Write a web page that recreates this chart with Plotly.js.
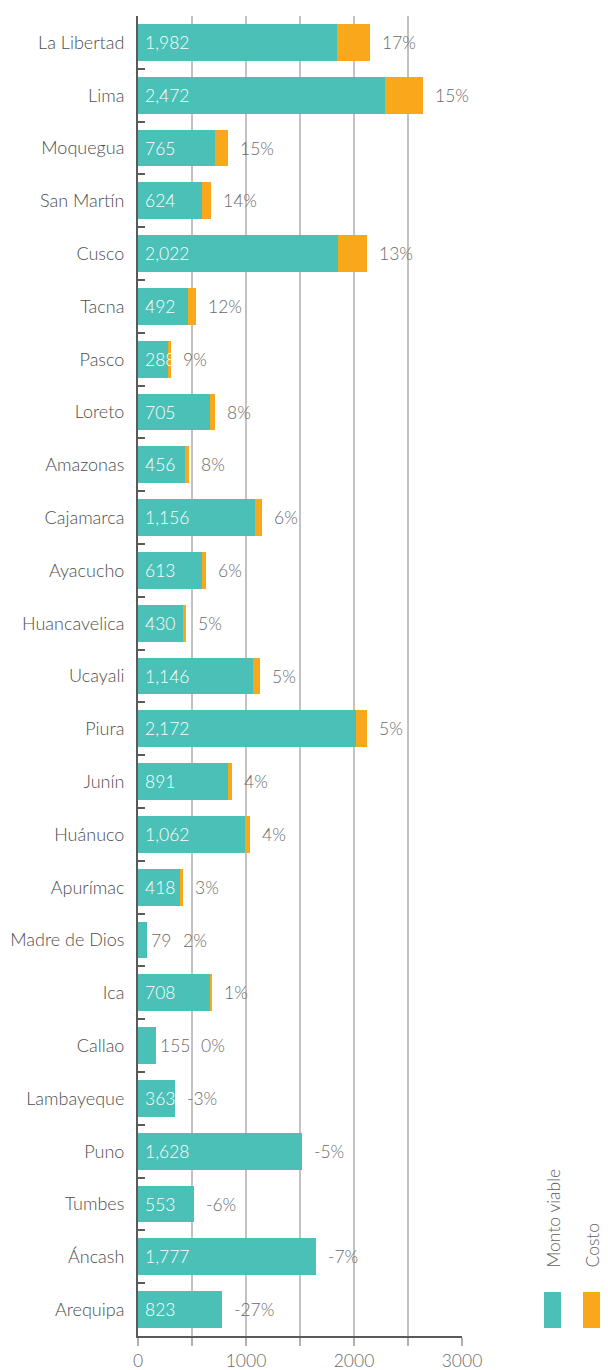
<!DOCTYPE html>
<html>
<head>
<meta charset="utf-8">
<script src="https://cdn.plot.ly/plotly-3.0.1.min.js"></script>
<style>
  html, body { margin: 0; padding: 0; background: #ffffff; }
  #chart { width: 608px; height: 1370px; }
</style>
</head>
<body>
<div id="chart"></div>
<script>
// ---- Data ----
const regions = ["La Libertad", "Lima", "Moquegua", "San Martín", "Cusco", "Tacna", "Pasco", "Loreto",
  "Amazonas", "Cajamarca", "Ayacucho", "Huancavelica", "Ucayali", "Piura", "Junín", "Huánuco",
  "Apurímac", "Madre de Dios", "Ica", "Callao", "Lambayeque", "Puno", "Tumbes", "Áncash", "Arequipa"];

// length of the teal bar (Monto viable), in axis units
const montoViable = [1846, 2289, 717, 588, 1851, 467, 274, 663,
  433, 1081, 588, 412, 1062, 2019, 833, 988,
  393, 87, 667, 162, 347, 1517, 523, 1647, 775];

// length of the orange bar (Costo), in axis units
const costo = [306, 346, 112, 84, 270, 66, 36, 54,
  36, 65, 37, 28, 68, 102, 34, 46,
  19, 0, 18, 0, 0, 0, 0, 0, 0];

// value labels shown on the bars
const montoLabels = ["1,982", "2,472", "765", "624", "2,022", "492", "288", "705",
  "456", "1,156", "613", "430", "1,146", "2,172", "891", "1,062",
  "418", "79", "708", "155", "363", "1,628", "553", "1,777", "823"];

// percentage labels
const pctLabels = ["17%", "15%", "15%", "14%", "13%", "12%", "9%", "8%",
  "8%", "6%", "6%", "5%", "5%", "5%", "4%", "4%",
  "3%", "2%", "1%", "0%", "-3%", "-5%", "-6%", "-7%", "-27%"];

const xTickVals = [0, 500, 1000, 1500, 2000, 2500, 3000];
const xTickText = ["0", "", "1000", "", "2000", "", "3000"];

const seriesNames = ["Monto viable", "Costo"];

// ---- Styling ----
const TEAL = "#4BC0B6";
const ORANGE = "#F9A81C";
const FONT = "Lato, 'Open Sans', sans-serif";
const X_MAX = 3000;
const PLOT_W = 324;               // plot width in px

const traces = [
  {
    type: "bar", orientation: "h", name: seriesNames[0],
    y: regions, x: montoViable,
    marker: { color: TEAL },
    hoverinfo: "skip"
  },
  {
    type: "bar", orientation: "h", name: seriesNames[1],
    y: regions, x: costo,
    marker: { color: ORANGE },
    hoverinfo: "skip"
  }
];

const annotations = [];
regions.forEach((r, i) => {
  const inside = montoViable[i] >= 200;
  const txtW = montoLabels[i].replace(/,/g, "").length * 9.8;
  if (inside) {
    annotations.push({
      x: 0, y: r, xref: "x", yref: "y", xanchor: "left", yanchor: "middle",
      xshift: 5, showarrow: false, text: montoLabels[i],
      font: { family: FONT, size: 17.5, color: "#ffffff", weight: 300 }
    });
  } else {
    annotations.push({
      x: montoViable[i], y: r, xref: "x", yref: "y", xanchor: "left", yanchor: "middle",
      xshift: 2, showarrow: false, text: montoLabels[i],
      font: { family: FONT, size: 17.5, color: "#6a6a6a", weight: 300 }
    });
  }
  const total = montoViable[i] + costo[i];
  annotations.push({
    x: total, y: r, xref: "x", yref: "y", xanchor: "left", yanchor: "middle",
    xshift: inside ? 10 : (2 + txtW + 12), showarrow: false, text: pctLabels[i],
    font: { family: FONT, size: 17.5, color: "#6a6a6a", weight: 300 }
  });
});

// legend (rotated labels + swatches)
const plotTop = 16, plotBottom = 1336, plotLeft = 138;
const plotH = plotBottom - plotTop;
function px2x(px) { return (px - plotLeft) / PLOT_W; }
function px2y(py) { return (plotBottom - py) / plotH; }

annotations.push({
  xref: "paper", yref: "paper", x: px2x(553), y: px2y(1270),
  xanchor: "center", yanchor: "bottom", textangle: -90, showarrow: false,
  text: seriesNames[0], font: { family: FONT, size: 17.5, color: "#5e5e5e", weight: 300 }
});
annotations.push({
  xref: "paper", yref: "paper", x: px2x(592), y: px2y(1270),
  xanchor: "center", yanchor: "bottom", textangle: -90, showarrow: false,
  text: seriesNames[1], font: { family: FONT, size: 17.5, color: "#5e5e5e", weight: 300 }
});

const shapes = [
  { type: "rect", xref: "paper", yref: "paper", x0: px2x(544), x1: px2x(561), y0: px2y(1328), y1: px2y(1292),
    fillcolor: TEAL, line: { width: 0 } },
  { type: "rect", xref: "paper", yref: "paper", x0: px2x(583), x1: px2x(600), y0: px2y(1328), y1: px2y(1292),
    fillcolor: ORANGE, line: { width: 0 } }
];

const layout = {
  width: 608, height: 1370,
  margin: { l: plotLeft, r: 608 - plotLeft - PLOT_W, t: plotTop, b: 1370 - plotBottom },
  paper_bgcolor: "#ffffff", plot_bgcolor: "#ffffff",
  barmode: "stack", bargap: 0.3,
  showlegend: false,
  font: { family: FONT, color: "#666666", weight: 300 },
  xaxis: {
    range: [0, X_MAX], fixedrange: true,
    tickmode: "array", tickvals: xTickVals, ticktext: xTickText,
    ticks: "outside", ticklen: 8, tickwidth: 1.5, tickcolor: "#b0b0b0",
    showgrid: true, gridcolor: "#c2c2c2", gridwidth: 1.5,
    zeroline: false,
    showline: true, linecolor: "#5a5a5a", linewidth: 2,
    tickfont: { family: FONT, size: 17.5, color: "#6a6a6a", weight: 300 }
  },
  yaxis: {
    type: "category", autorange: "reversed", fixedrange: true,
    categoryorder: "array", categoryarray: regions,
    ticks: "inside", tickson: "boundaries", ticklen: 7, tickwidth: 2, tickcolor: "#5a5a5a",
    showline: true, linecolor: "#5a5a5a", linewidth: 2,
    showgrid: false, zeroline: false,
    ticklabelstandoff: 8,
    tickfont: { family: FONT, size: 18, color: "#4e4e4e", weight: 300 }
  },
  annotations: annotations,
  shapes: shapes
};

Plotly.newPlot("chart", traces, layout, { displayModeBar: false, staticPlot: true });
</script>
</body>
</html>
